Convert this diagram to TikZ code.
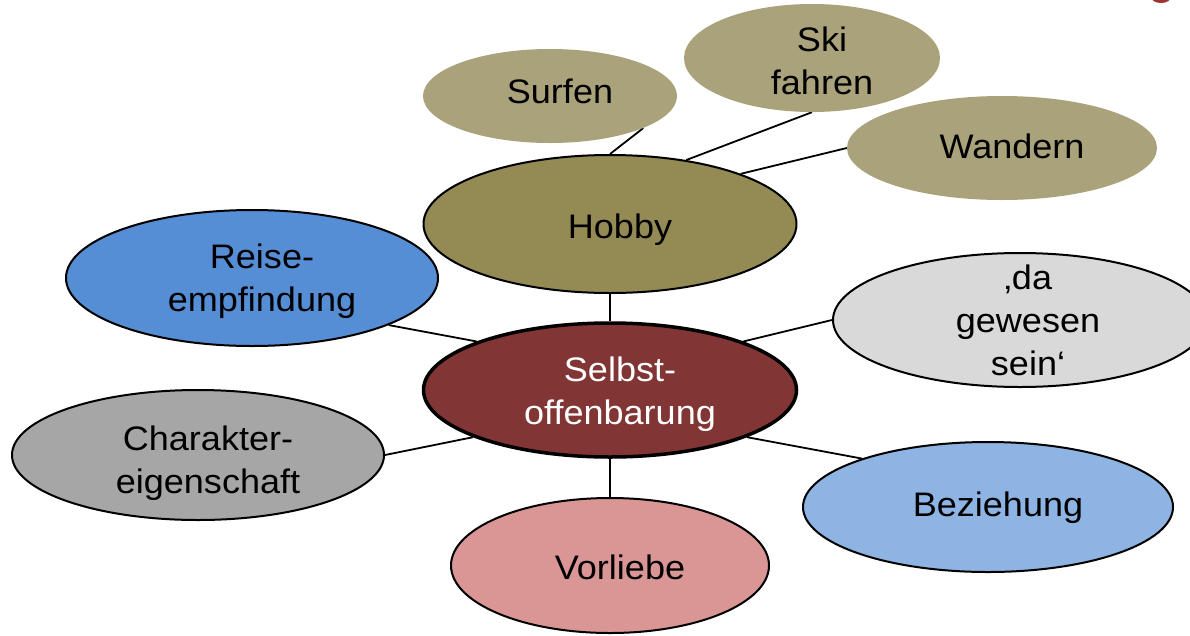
\documentclass[tikz,border=0pt]{standalone}
\usepackage{fontspec}
\setmainfont{Liberation Sans}[FakeStretch=1.06]
\usetikzlibrary{shapes.geometric}
\definecolor{khaki}{HTML}{A9A27A}
\definecolor{olive}{HTML}{948A54}
\definecolor{reiseblue}{HTML}{558ED5}
\definecolor{lightgray}{HTML}{D9D9D9}
\definecolor{selbstred}{HTML}{813535}
\definecolor{midgray}{HTML}{A6A6A6}
\definecolor{lightblue}{HTML}{8EB4E3}
\definecolor{rose}{HTML}{D99694}
\definecolor{cornerred}{HTML}{A03434}
\pgfdeclarelayer{bg}
\pgfsetlayers{bg,main}
\begin{document}
\begin{tikzpicture}[x=1pt,y=-1pt,
  ell/.style={ellipse, inner sep=0pt},
  bord/.style={draw=black, line width=2pt},
  txt/.style={align=center, inner sep=0pt, font=\fontsize{34}{43}\selectfont},
  link/.style={draw=black, line width=1.8pt}]
\useasboundingbox (0,0) rectangle (1190,635);
\fill[cornerred] (1161,-3) ellipse [x radius=10pt, y radius=6pt];
% ellipses
\node[ell, fill=khaki, minimum width=254pt, minimum height=94pt] (surf) at (550,96) {};
\node[ell, fill=khaki, minimum width=256pt, minimum height=108pt] (ski) at (812,58) {};
\node[ell, fill=khaki, minimum width=310pt, minimum height=104pt] (wand) at (1002,148) {};
\node[ell, bord, fill=olive, minimum width=373pt, minimum height=138pt] (hobby) at (610,224) {};
\node[ell, bord, fill=reiseblue, minimum width=372pt, minimum height=136pt] (reise) at (252,278) {};
\node[ell, bord, fill=lightgray, minimum width=374pt, minimum height=134pt] (da) at (1020,320) {};
\node[ell, draw=black, line width=3.5pt, fill=selbstred, minimum width=373pt, minimum height=134pt] (selbst) at (610,390) {};
\node[ell, bord, fill=midgray, minimum width=372pt, minimum height=130pt] (char) at (198,455) {};
\node[ell, bord, fill=lightblue, minimum width=370pt, minimum height=130pt] (bez) at (988,507) {};
\node[ell, bord, fill=rose, minimum width=318pt, minimum height=135pt] (vor) at (610,565.5) {};
% texts
\node[txt] (surfT) at (560,91) {Surfen};
\node[txt] (skiT) at (822,61) {Ski\\fahren};
\node[txt] (wandT) at (1012,146) {Wandern};
\node[txt] (hobbyT) at (620,230) {Hobby};
\node[txt] (reiseT) at (262,281.5) {Reise-\\empfindung};
\node[txt] (daT) at (1028,320.5) {‚da\\gewesen\\sein‘};
\node[txt, text=white] (selbstT) at (620,394.5) {Selbst-\\offenbarung};
\node[txt] (charT) at (208,463.5) {Charakter-\\eigenschaft};
\node[txt] (bezT) at (998,508) {Beziehung};
\node[txt] (vorT) at (620,567.5) {Vorliebe};
% links
\begin{pgfonlayer}{bg}
\draw[link] (surf.-19.4) -- (hobby.90);
\draw[link] (ski.-90) -- (hobby.40.9);
\draw[link] (wand.180) -- (hobby.21.5);
\draw[link] (hobby.south) -- (selbst.north);
\draw[link] (reise.-19.5) -- (selbst.160);
\draw[link] (da.180) -- (selbst.20);
\draw[link] (char.0) -- (selbst.-161);
\draw[link] (bez.159) -- (selbst.-19);
\draw[link] (vor.north) -- (selbst.south);
\end{pgfonlayer}
\end{tikzpicture}
\end{document}
